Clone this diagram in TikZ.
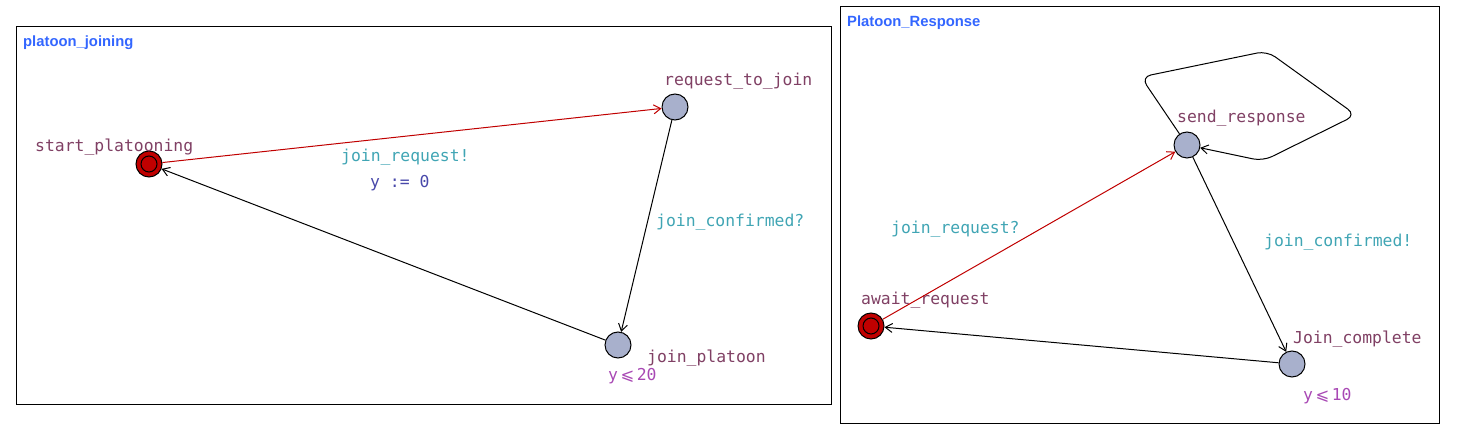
\documentclass[tikz,border=0pt]{standalone}
\usepackage{fontspec}
\setmonofont{DejaVu Sans Mono}
\newfontfamily\titlefont{Liberation Sans}
\newfontfamily\symfont{DejaVu Sans}
\usetikzlibrary{arrows.meta}
\definecolor{locname}{RGB}{128,64,100}
\definecolor{synccol}{RGB}{64,165,180}
\definecolor{assigncol}{RGB}{72,72,170}
\definecolor{invcol}{RGB}{168,72,180}
\definecolor{titlecol}{RGB}{51,102,255}
\definecolor{locfill}{RGB}{168,176,204}
\definecolor{initfill}{RGB}{192,0,0}
\definecolor{rededge}{RGB}{192,0,0}
\newcommand{\leqsl}{\hspace{2.5pt}{\symfont ⩽}\hspace{2.5pt}}
\tikzset{
  loc/.style={circle,draw=black,line width=1pt,fill=locfill,minimum size=26pt,inner sep=0pt},
  initloc/.style={loc,fill=initfill},
  lbl/.style={font=\ttfamily\fontsize{16.4}{18}\selectfont,anchor=base west,inner sep=0pt},
  nm/.style={lbl,text=locname},
  sy/.style={lbl,text=synccol},
  as/.style={lbl,text=assigncol},
  inv/.style={lbl,text=invcol},
  ttl/.style={font=\titlefont\bfseries\fontsize{14.8}{16}\selectfont,text=titlecol,anchor=base west,inner sep=0pt},
  frame/.style={draw=black,line width=1pt},
  edge/.style={draw=black,line width=1pt,-{Straight Barb[length=7pt,width=9pt]}},
  redge/.style={edge,draw=rededge},
}
\begin{document}
\begin{tikzpicture}[x=1pt,y=-1pt]
\useasboundingbox (0,0) rectangle (1463,435);
% frames
\draw[frame] (16,27) rectangle (831,404);
\draw[frame] (840,7) rectangle (1439,423);
\node[ttl] (t1) at (23,47) {platoon\_joining};
\node[ttl] (t2) at (847,27) {Platoon\_Response};
% left automaton
\node[initloc] (sp) at (149,164) {};
\draw[line width=1pt] (sp.center) circle (8);
\node[loc] (rj) at (675,107) {};
\node[loc] (jp) at (618,345) {};
\node[nm] (nsp) at (35,152) {start\_platooning};
\node[nm] (nrj) at (664,86) {request\_to\_join};
\node[nm] (njp) at (647,362) {join\_platoon};
\node[inv] (ijp) at (608,380) {y\leqsl 20};
\node[sy] (s1) at (341,162) {join\_request!};
\node[as] (a1) at (370,188) {y := 0};
\node[sy] (s2) at (656,227) {join\_confirmed?};
\draw[redge] (sp) -- (rj);
\draw[edge] (rj) -- (jp);
\draw[edge] (jp) -- (sp);
% right automaton
\node[loc] (sr) at (1187,145) {};
\node[initloc] (ar) at (871,326) {};
\draw[line width=1pt] (ar.center) circle (8);
\node[loc] (jc) at (1292,364) {};
\node[nm] (nsr) at (1177,123) {send\_response};
\node[nm] (nar) at (861,305) {await\_request};
\node[nm] (njc) at (1293,343) {Join\_complete};
\node[inv] (ijc) at (1303,400) {y\leqsl 10};
\node[sy] (s3) at (891,234) {join\_request?};
\node[sy] (s4) at (1264,247) {join\_confirmed!};
\draw[redge] (ar) -- (sr);
\draw[edge] (sr) -- (jc);
\draw[edge] (jc) -- (ar);
\coordinate (c1) at (1141,77);
\coordinate (c2) at (1267,51);
\coordinate (c3) at (1356,115);
\coordinate (c4) at (1263,161);
\draw[edge,rounded corners=10pt] (sr) -- (c1) -- (c2) -- (c3) -- (c4) -- (sr);
\end{tikzpicture}
\end{document}
